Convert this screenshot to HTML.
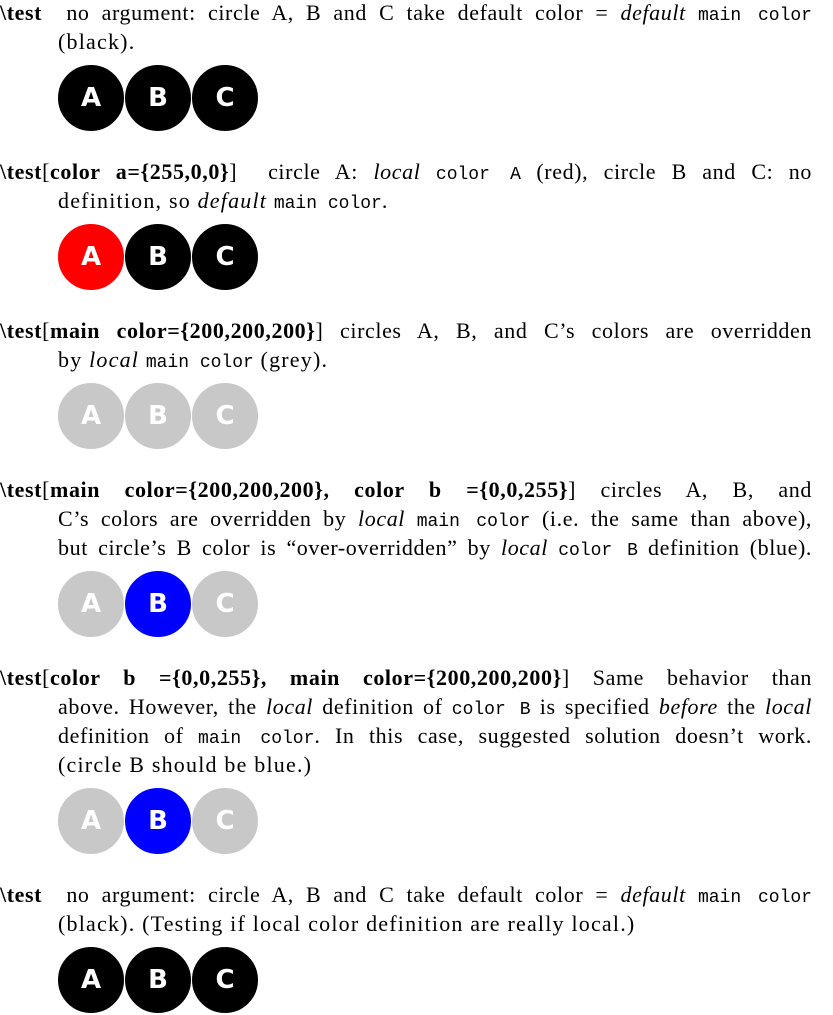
<!DOCTYPE html>
<html><head><meta charset="utf-8"><style>
body{margin:0;width:833px;height:1015px;background:#fff;position:relative;overflow:hidden;font-family:"Liberation Serif",serif;font-size:22px;letter-spacing:1.2px;color:#000}
.l{position:absolute;height:29px;line-height:29px;white-space:nowrap}
.j{white-space:normal;text-align:justify;text-align-last:justify;overflow:hidden;letter-spacing:0.6px}
.f{left:0;width:812px}.c{left:58px;width:754px}.cs{left:58px}
tt{font-family:"Liberation Mono",monospace;font-size:18px;letter-spacing:0}
b{font-weight:bold}
.ci{position:absolute;width:68px;height:68px;border-radius:50%;box-sizing:border-box;border:1.5px solid #fff;color:#fff;font:bold 26px "DejaVu Sans",sans-serif;letter-spacing:0;display:flex;align-items:center;justify-content:center}
.k{background:#000}.g{background:#c8c8c8}.r{background:#f00}.u{background:#00f}
</style></head><body>

<div class="l j f" style="top:-2px"><b>\test</b>&nbsp; no argument: circle A, B and C take default color = <i>default</i> <tt>main color</tt></div>
<div class="l cs" style="top:27px">(black).</div>

<div class="l j f" style="top:157px"><b>\test</b>[<b>color a={255,0,0}</b>]&nbsp; circle A: <i>local</i> <tt>color A</tt> (red), circle B and C: no</div>
<div class="l cs" style="top:186px">definition, so <i>default</i> <tt>main color</tt>.</div>

<div class="l j f" style="top:316px"><b>\test</b>[<b>main color={200,200,200}</b>] circles A, B, and C’s colors are overridden</div>
<div class="l cs" style="top:345px">by <i>local</i> <tt>main color</tt> (grey).</div>

<div class="l j f" style="top:475px"><b>\test</b>[<b>main color={200,200,200}, color b ={0,0,255}</b>] circles A, B, and</div>
<div class="l j c" style="top:504px">C’s colors are overridden by <i>local</i> <tt>main color</tt> (i.e. the same than above),</div>
<div class="l j c" style="top:533px">but circle’s B color is “over-overridden” by <i>local</i> <tt>color B</tt> definition (blue).</div>

<div class="l j f" style="top:663px"><b>\test</b>[<b>color b ={0,0,255}, main color={200,200,200}</b>] Same behavior than</div>
<div class="l j c" style="top:692px">above. However, the <i>local</i> definition of <tt>color B</tt> is specified <i>before</i> the <i>local</i></div>
<div class="l j c" style="top:721px">definition of <tt>main color</tt>. In this case, suggested solution doesn’t work.</div>
<div class="l cs" style="top:750px">(circle B should be blue.)</div>

<div class="l j f" style="top:880px"><b>\test</b>&nbsp; no argument: circle A, B and C take default color = <i>default</i> <tt>main color</tt></div>
<div class="l cs" style="top:909px">(black). (Testing if local color definition are really local.)</div>

<div class="ci k" style="left:57px;top:64px">A</div><div class="ci k" style="left:124px;top:64px">B</div><div class="ci k" style="left:191px;top:64px">C</div>
<div class="ci r" style="left:57px;top:223px">A</div><div class="ci k" style="left:124px;top:223px">B</div><div class="ci k" style="left:191px;top:223px">C</div>
<div class="ci g" style="left:57px;top:382px">A</div><div class="ci g" style="left:124px;top:382px">B</div><div class="ci g" style="left:191px;top:382px">C</div>
<div class="ci g" style="left:57px;top:570px">A</div><div class="ci u" style="left:124px;top:570px">B</div><div class="ci g" style="left:191px;top:570px">C</div>
<div class="ci g" style="left:57px;top:787px">A</div><div class="ci u" style="left:124px;top:787px">B</div><div class="ci g" style="left:191px;top:787px">C</div>
<div class="ci k" style="left:57px;top:946px">A</div><div class="ci k" style="left:124px;top:946px">B</div><div class="ci k" style="left:191px;top:946px">C</div>
</body></html>
